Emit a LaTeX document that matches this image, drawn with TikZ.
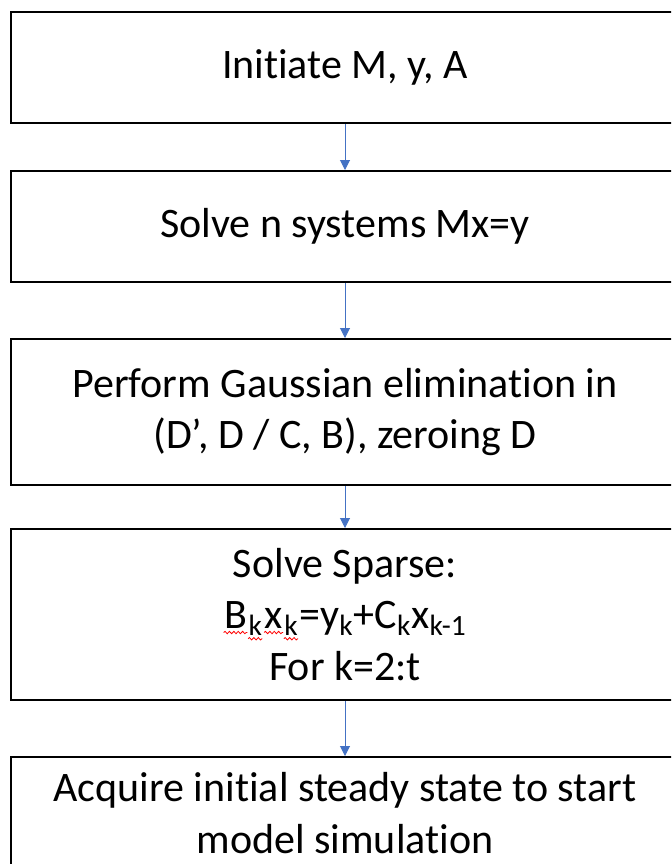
\documentclass[tikz,border=0pt]{standalone}
\usepackage{fontspec}
\setmainfont{Carlito}[Ligatures=NoCommon]
\usetikzlibrary{arrows.meta,decorations.pathmorphing}
\definecolor{flowblue}{HTML}{4472C4}
\newcommand{\spellwave}[1]{\tikz[baseline=(w.base)]{\node[draw=none,inner sep=0pt,
        minimum width=0pt,minimum height=0pt] (w) {#1};
    \draw[red,line width=0.4pt,decorate,decoration={snake,amplitude=0.6pt,segment length=2.2pt}]
        ([yshift=-1.8pt]w.base west) -- ([yshift=-1.8pt]w.base east);}}
\begin{document}
\begin{tikzpicture}[x=0.5pt,y=-0.5pt,
    stepbox/.style={draw,line width=1pt,minimum width=334pt,inner sep=0pt,
        align=center,font=\fontsize{21}{25.6}\selectfont},
    flow/.style={flowblue,line width=0.5pt,-{Triangle[width=5pt,length=5pt]}}]
            \def\cx{345}
            \useasboundingbox (0,0) rectangle (671,864);
            \clip (0,0) rectangle (671,864);
            \node[stepbox,minimum height=55.5pt] (init) at (\cx,67.5)
                {Initiate M, y, A};
            \node[stepbox,minimum height=55.5pt] (solve) at (\cx,226.5)
                {Solve n systems Mx=y};
            \node[stepbox,minimum height=73pt] (gauss) at (\cx,412)
                {Perform Gaussian elimination in\\(D’, D / C, B), zeroing D};
            \node[stepbox,minimum height=85.5pt] (sparse) at (\cx,614.5)
                {Solve Sparse:\\
                 \spellwave{B}\textsubscript{\spellwave{k}}\spellwave{x}\textsubscript{\spellwave{k}}=y\textsubscript{k}+C\textsubscript{k}x\textsubscript{k-1}\\
                 For k=2:t};
            \node[stepbox,minimum height=56pt] (steady) at (\cx,813)
                {Acquire initial steady state to start\\model simulation};
            \foreach \a/\b in {init/solve,solve/gauss,gauss/sparse,sparse/steady}
                {\draw[flow] (\a) -- (\b);}
\end{tikzpicture}
\end{document}
